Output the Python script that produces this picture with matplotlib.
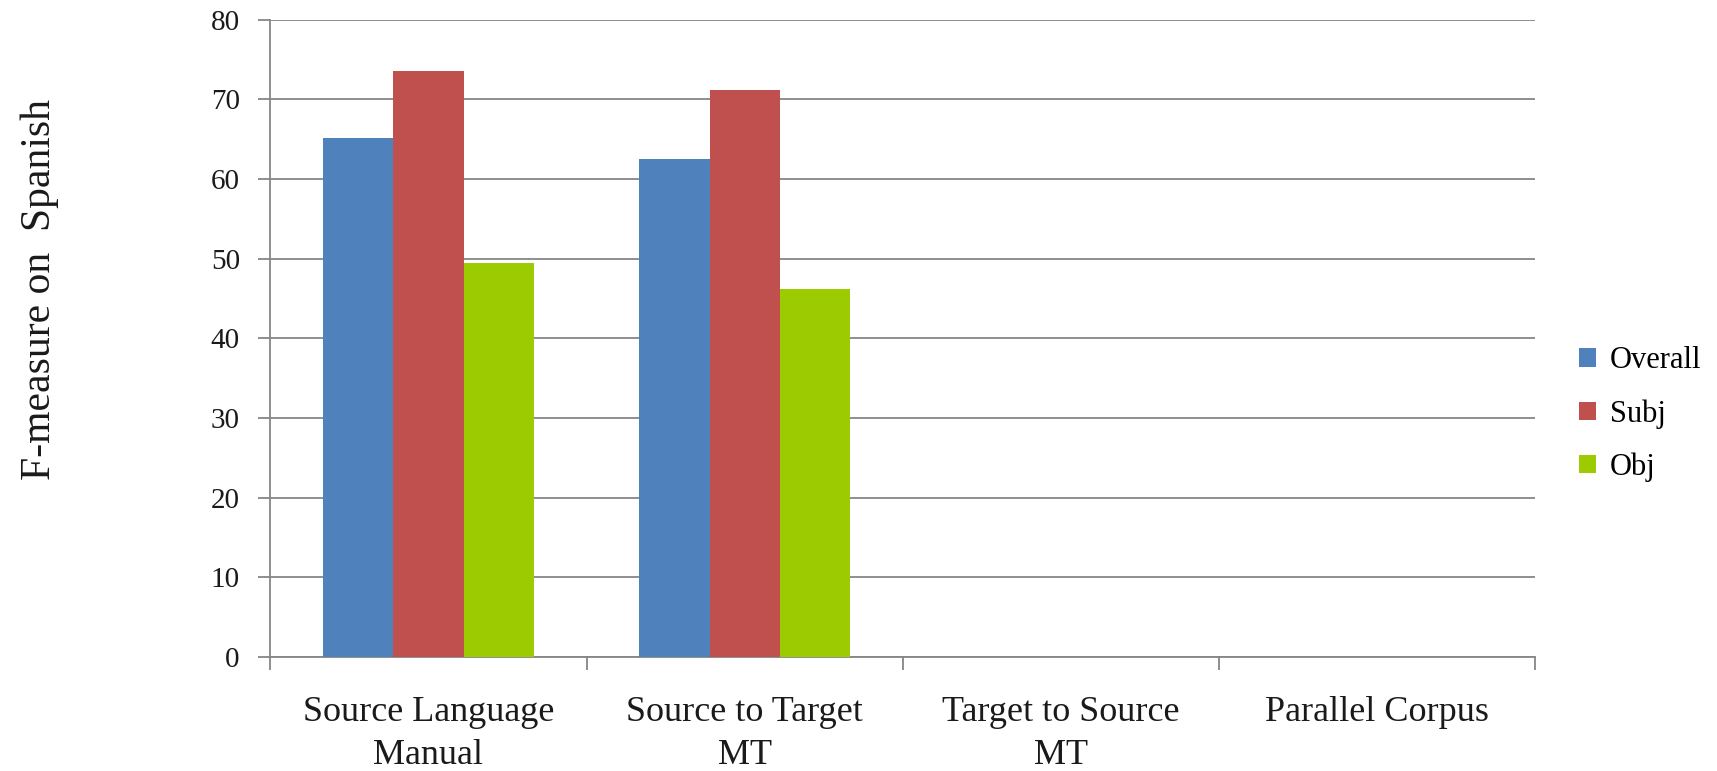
import numpy as np
import matplotlib.pyplot as plt

# F-measure per training setup
categories = ['Source Language\nManual', 'Source to Target\nMT', 'Target to Source\nMT', 'Parallel Corpus']
series = ['Overall', 'Subj', 'Obj']
overall = [65.2, 62.5, 0, 0]
subj = [73.5, 71.2, 0, 0]
obj = [49.5, 46.2, 0, 0]
colors = ['#4F81BD', '#C0504D', '#9BCB00']

plt.rcParams['font.family'] = ['Liberation Serif', 'DejaVu Serif']

fig = plt.figure(figsize=(17.17, 7.71), dpi=100)
ax = fig.add_axes([0.1575, 0.148, 0.7365, 0.8265])

x = np.arange(len(categories))
w = 1 / 4.5
for i, (vals, name) in enumerate(zip([overall, subj, obj], series)):
    ax.bar(x + (i - 1) * w, vals, width=w, color=colors[i], label=name, zorder=3)

grid_c = '#868686'
ax.set_ylim(0, 80)
ax.set_xlim(-0.5, len(categories) - 0.5)
ax.set_yticks(range(0, 81, 10))
ax.yaxis.grid(True, color=grid_c, linewidth=1.3, zorder=0)
ax.tick_params(axis='y', length=9, width=1.3, color=grid_c, pad=13, labelsize=21, labelcolor='#1a1a1a')

ax.set_xticks(x)
ax.set_xticklabels(categories, fontsize=26, color='#1a1a1a', linespacing=1.4)
ax.set_xticks(np.arange(-0.5, len(categories)), minor=True)
ax.tick_params(axis='x', which='major', length=0, pad=28)
ax.tick_params(axis='x', which='minor', length=9, width=1.3, color=grid_c)

for s in ['top', 'right']:
    ax.spines[s].set_visible(False)
for s in ['left', 'bottom']:
    ax.spines[s].set_color(grid_c)
    ax.spines[s].set_linewidth(1.3)

fig.text(0.023, 0.625, 'F-measure on  Spanish', rotation=90, fontsize=30,
         color='#1a1a1a', ha='center', va='center')

fig.legend(loc='center left', bbox_to_anchor=(0.911, 0.463), frameon=False,
           borderpad=0, fontsize=22, handlelength=0.55, handleheight=0.55,
           handletextpad=0.45, labelspacing=0.78)

fig.savefig('out.png', dpi=100)
